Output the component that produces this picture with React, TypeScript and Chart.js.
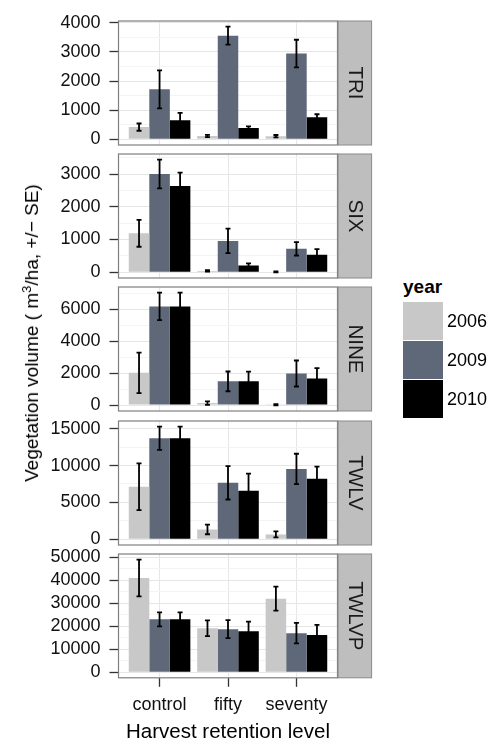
import React, { useEffect, useRef } from 'react';
import { Chart, registerables } from 'chart.js';

Chart.register(...registerables);

// ---------- data ----------
const categories = ['control', 'fifty', 'seventy'];
const years = ['2006', '2009', '2010'];
const yearColors = ['#C8C8C8', '#5E6878', '#000000'];
const panelNames = ['TRI', 'SIX', 'NINE', 'TWLV', 'TWLVP'];

// rows = years (2006, 2009, 2010), columns = categories
const triMean = [[420, 114, 110], [1716, 3557, 2943], [659, 386, 761]];
const triSE = [[125, 40, 40], [650, 310, 475], [250, 60, 100]];
const sixMean = [[1188, 40, 10], [3000, 957, 715], [2638, 201, 534]];
const sixSE = [[410, 20, 15], [440, 375, 205], [405, 70, 170]];
const nineMean = [[2021, 124, 20], [6186, 1485, 1979], [6186, 1485, 1670]];
const nineSE = [[1270, 110, 40], [865, 620, 815], [865, 610, 640]];
const twlvMean = [[7120, 1343, 672], [13700, 7657, 9538], [13700, 6582, 8195]];
const twlvSE = [[3160, 650, 400], [1570, 2260, 2060], [1570, 2330, 1660]];
const twlvpMean = [[40883, 19088, 31909], [22934, 18660, 16952], [22934, 17806, 16097]];
const twlvpSE = [[7980, 3420, 5200], [3060, 3920, 4490], [3060, 4130, 4420]];

const triTicks = [0, 1000, 2000, 3000, 4000];
const sixTicks = [0, 1000, 2000, 3000];
const nineTicks = [0, 2000, 4000, 6000];
const twlvTicks = [0, 5000, 10000, 15000];
const twlvpTicks = [0, 10000, 20000, 30000, 40000, 50000];

const xTitle = 'Harvest retention level';
const legendTitle = 'year';

const panelMeans = [triMean, sixMean, nineMean, twlvMean, twlvpMean];
const panelSEs = [triSE, sixSE, nineSE, twlvSE, twlvpSE];
const panelTicks = [triTicks, sixTicks, nineTicks, twlvTicks, twlvpTicks];

// ---------- layout ----------
const FONT = '"Liberation Sans", Arial, Helvetica, sans-serif';
const PANEL_TOP0 = 21;
const PANEL_H = 124;
const PANEL_GAP = 9.2;
const PANEL_LEFT = 118.5;
const PANEL_RIGHT = 337.5;
const STRIP_W = 33.5;
const CANVAS_W = 376;
const PAGE_H = 744;

const decoPlugin = {
  id: 'facetDeco',
  afterDatasetsDraw(chart: any) {
    const ctx = chart.ctx;
    const yScale = chart.scales.y;
    ctx.save();
    ctx.strokeStyle = '#000';
    ctx.lineWidth = 1.8;
    chart.data.datasets.forEach((ds: any, di: number) => {
      const meta = chart.getDatasetMeta(di);
      meta.data.forEach((el: any, i: number) => {
        const v = ds.data[i].y;
        const se = ds.se[i];
        const yHi = yScale.getPixelForValue(v + se);
        const yLo = yScale.getPixelForValue(v - se);
        const x = el.x;
        const cap = 2.5;
        ctx.beginPath();
        ctx.moveTo(x, yHi);
        ctx.lineTo(x, yLo);
        ctx.moveTo(x - cap, yHi);
        ctx.lineTo(x + cap, yHi);
        ctx.moveTo(x - cap, yLo);
        ctx.lineTo(x + cap, yLo);
        ctx.stroke();
      });
    });
    ctx.restore();
  },
  afterDraw(chart: any) {
    const { ctx, chartArea } = chart;
    const { left, right, top, bottom } = chartArea;
    const name = chart.options.plugins.facetDeco.name;
    ctx.save();
    // panel border
    ctx.strokeStyle = '#7F7F7F';
    ctx.lineWidth = 1.2;
    ctx.strokeRect(left, top, right - left, bottom - top);
    // strip
    ctx.fillStyle = '#BEBEBE';
    ctx.fillRect(right + 0.6, top, STRIP_W, bottom - top);
    ctx.strokeStyle = '#8A8A8A';
    ctx.lineWidth = 1;
    ctx.strokeRect(right + 0.6, top, STRIP_W, bottom - top);
    ctx.translate(right + 0.6 + STRIP_W / 2, (top + bottom) / 2);
    ctx.rotate(Math.PI / 2);
    ctx.fillStyle = '#1A1A1A';
    ctx.font = `20.5px ${FONT}`;
    ctx.textAlign = 'center';
    ctx.textBaseline = 'middle';
    ctx.fillText(name, 0, 0);
    ctx.restore();
  },
};

function Panel({ index }: { index: number }) {
  const ref = useRef<HTMLCanvasElement>(null);
  const isLast = index === panelNames.length - 1;
  const panelTop = PANEL_TOP0 + index * (PANEL_H + PANEL_GAP);
  const panelBottom = panelTop + PANEL_H;
  const padTop = 22;
  const padBottom = isLast ? 0 : 22;
  const canvasTop = panelTop - padTop;
  const canvasH = isLast ? PAGE_H - canvasTop : PANEL_H + padTop + padBottom;
  const xAxisH = isLast ? PAGE_H - panelBottom : 0;

  useEffect(() => {
    const means = panelMeans[index];
    const ses = panelSEs[index];
    const majors = panelTicks[index];
    let lo = 0;
    let hi = 0;
    means.forEach((row, k) =>
      row.forEach((v, i) => {
        lo = Math.min(lo, v - ses[k][i]);
        hi = Math.max(hi, v + ses[k][i]);
      })
    );
    const pad = (hi - lo) * 0.05;
    const yMin = lo - pad;
    const yMax = hi + pad;
    const step = majors[1] - majors[0];
    const minors: number[] = [];
    for (let m = majors[0] + step / 2; m <= yMax; m += step) minors.push(m);
    const allTicks = [...majors, ...minors].filter((v) => v >= yMin && v <= yMax).sort((a, b) => a - b);
    const isMajor = (v: number) => majors.includes(v);

    const datasets = years.map((yr, k) => ({
      label: yr,
      data: means[k].map((v, i) => ({ x: i + 1, y: v })),
      se: ses[k],
      backgroundColor: yearColors[k],
      borderWidth: 0,
      barPercentage: 1,
      categoryPercentage: 0.9,
    }));

    const chart = new Chart(ref.current as HTMLCanvasElement, {
      type: 'bar',
      data: { datasets } as any,
      options: {
        responsive: false,
        animation: false,
        events: [],
        layout: { padding: { left: 0, right: CANVAS_W - PANEL_RIGHT, top: padTop, bottom: padBottom } },
        plugins: {
          legend: { display: false },
          tooltip: { enabled: false },
          facetDeco: { name: panelNames[index] },
        } as any,
        scales: {
          x: {
            type: 'linear',
            min: 0.4,
            max: 3.6,
            offset: false,
            afterBuildTicks: (s: any) => {
              s.ticks = categories.map((_, i) => ({ value: i + 1 }));
            },
            afterFit: (s: any) => {
              s.height = xAxisH;
            },
            grid: {
              offset: false,
              color: '#E6E6E6',
              lineWidth: 1,
              drawTicks: isLast,
              tickLength: 9,
              tickColor: '#333333',
              tickWidth: 1.3,
            },
            border: { display: false },
            ticks: {
              display: isLast,
              autoSkip: false,
              maxRotation: 0,
              minRotation: 0,
              padding: 7,
              color: '#111111',
              font: { family: FONT, size: 18 },
              callback: (v: any) => categories[Math.round(Number(v)) - 1] ?? '',
            },
            title: {
              display: isLast,
              text: xTitle,
              color: '#000',
              font: { family: FONT, size: 20.5, lineHeight: 1 },
              padding: { top: 0, bottom: 1 },
            },
          },
          y: {
            type: 'linear',
            min: yMin,
            max: yMax,
            afterBuildTicks: (s: any) => {
              s.ticks = allTicks.map((v) => ({ value: v }));
            },
            afterFit: (s: any) => {
              s.width = PANEL_LEFT;
            },
            grid: {
              color: (c: any) => (c.tick && isMajor(c.tick.value) ? '#E6E6E6' : '#F4F4F4'),
              tickColor: (c: any) => (c.tick && isMajor(c.tick.value) ? '#333333' : 'rgba(0,0,0,0)'),
              lineWidth: 1,
              tickLength: 9,
              tickWidth: 1.3,
            },
            border: { display: false },
            ticks: {
              autoSkip: false,
              padding: 9,
              color: '#111111',
              font: { family: FONT, size: 18 },
              callback: (v: any) => (isMajor(Number(v)) ? String(v) : ''),
            },
          },
        },
      } as any,
      plugins: [decoPlugin],
    });
    return () => chart.destroy();
  }, [index]);

  return (
    <canvas
      ref={ref}
      width={CANVAS_W}
      height={canvasH}
      style={{ position: 'absolute', left: 0, top: canvasTop, width: CANVAS_W, height: canvasH }}
    />
  );
}

export default function App() {
  return (
    <div
      style={{
        position: 'fixed',
        left: 0,
        top: 0,
        width: 495,
        height: PAGE_H,
        background: '#fff',
        fontFamily: FONT,
        overflow: 'hidden',
      }}
    >
      {panelNames.map((_, i) => (
        <Panel key={i} index={i} />
      ))}
      <div
        style={{
          position: 'absolute',
          left: 33,
          top: 333,
          transform: 'translate(-50%, -50%) rotate(-90deg)',
          whiteSpace: 'nowrap',
          fontSize: 19,
          lineHeight: '22px',
          color: '#000',
        }}
      >
        Vegetation volume ( m
        <span style={{ fontSize: 13, position: 'relative', top: -7 }}>3</span>
        /ha, +/− SE)
      </div>
      <div
        style={{
          position: 'absolute',
          left: 403,
          top: 277,
          fontSize: 19,
          lineHeight: '19px',
          fontWeight: 'bold',
          color: '#000',
        }}
      >
        {legendTitle}
      </div>
      {years.map((yr, k) => (
        <React.Fragment key={yr}>
          <div
            style={{
              position: 'absolute',
              left: 403,
              top: 302 + k * 39,
              width: 40,
              height: 38,
              background: yearColors[k],
            }}
          />
          <div
            style={{
              position: 'absolute',
              left: 447,
              top: 302 + k * 39,
              height: 38,
              lineHeight: '38px',
              fontSize: 18,
              color: '#000',
            }}
          >
            {yr}
          </div>
        </React.Fragment>
      ))}
    </div>
  );
}
